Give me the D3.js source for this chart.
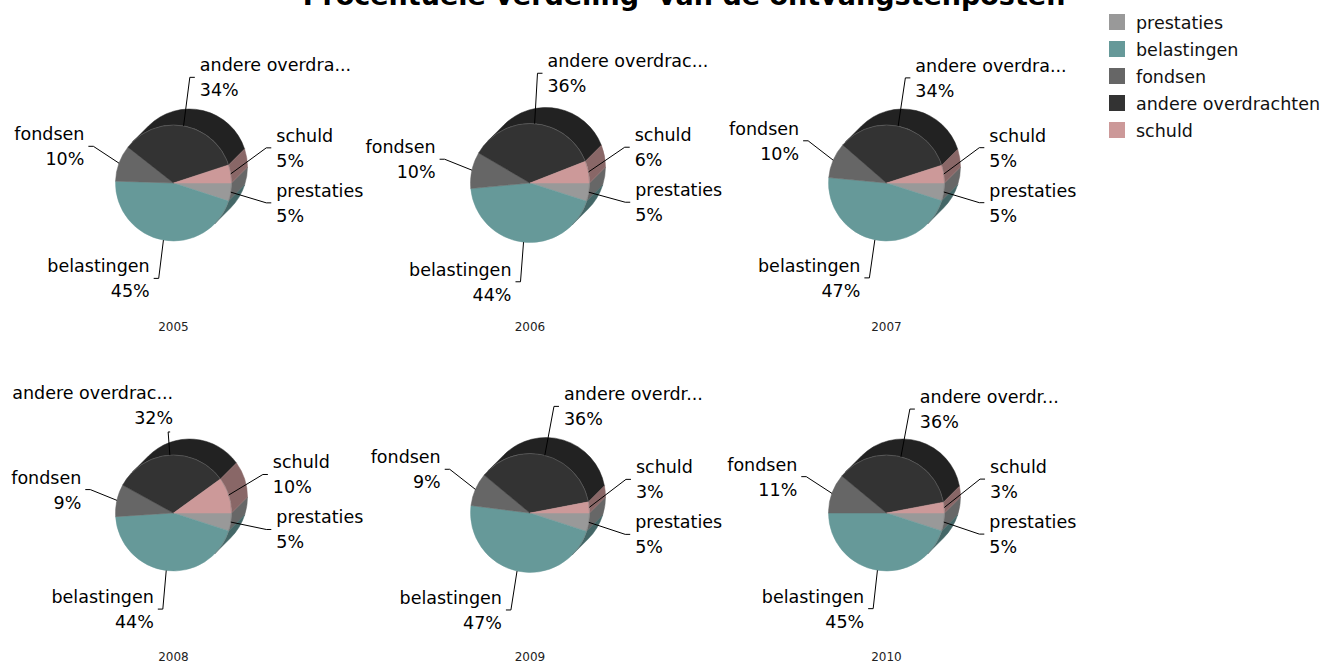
<!DOCTYPE html>
<html>
<head>
<meta charset="utf-8">
<style>
    body { margin: 0; background: #fff; }
    svg { display: block; font-family: 'DejaVu Sans', Verdana, sans-serif; }
</style>
</head>
<body>
<svg width="1324" height="663"></svg>

<script src="https://d3js.org/d3.v7.min.js"></script>
<script>
    // categories in pie order (clockwise from 3 o'clock)
    let categories = ["prestaties", "belastingen", "fondsen", "andere overdrachten", "schuld"];
    let colors = ["#999999", "#669999", "#666666", "#333333", "#cc9999"];
    let years = ["2005", "2006", "2007", "2008", "2009", "2010"];

    // percentages per category, one value per year
    let prestaties = [5, 5, 5, 5, 5, 5];
    let belastingen = [45, 44, 47, 44, 47, 45];
    let fondsen = [10, 10, 10, 9, 9, 11];
    let andere = [34, 36, 34, 32, 36, 36];
    let schuld = [5, 6, 5, 10, 3, 3];

    // the labels of "andere overdrachten" get cut off differently in each pie
    let andereLabels = ["andere overdra...", "andere overdrac...", "andere overdra...",
                        "andere overdrac...", "andere overdr...", "andere overdr..."];

    let svg = d3.select("svg");

    // title (partly off the top of the picture)
    svg.append("text")
        .attr("x", 684)
        .attr("y", 5)
        .attr("text-anchor", "middle")
        .attr("font-size", 27)
        .attr("font-weight", "bold")
        .attr("fill", "#000")
        .style("white-space", "pre")
        .text("Procentuele verdeling  van de ontvangstenposten");

    // legend
    let legend = svg.append("g").attr("transform", "translate(1109,14)");
    let legendRows = legend.selectAll("g")
        .data(categories)
        .join("g")
        .attr("transform", (d, i) => `translate(0,${i * 27})`);
    legendRows.append("rect")
        .attr("width", 16).attr("height", 16)
        .attr("fill", (d, i) => colors[i]);
    legendRows.append("text")
        .attr("x", 27).attr("y", 15)
        .attr("font-size", 17.5)
        .attr("fill", "#111")
        .text(d => d);

    let colX = d3.scalePoint().domain([0, 1, 2]).range([173.5, 886.5]);
    let rowY = d3.scalePoint().domain([0, 1]).range([183, 513]);
    let radii = [58, 59.5, 58];
    let depth = [16, -16];

    let pie = d3.pie().sort(null).startAngle(Math.PI / 2).endAngle(Math.PI * 2.5);

    // visible part of the cylinder wall, in d3 angles (0 = up, clockwise)
    let visible = [[-Math.PI / 4, Math.PI * 3 / 4], [Math.PI * 7 / 4, Math.PI * 11 / 4]];

    function darker(c) {
        let rgb = d3.rgb(c);
        return d3.rgb(rgb.r * 0.67, rgb.g * 0.67, rgb.b * 0.67).formatHex();
    }

    years.forEach((year, k) => {
        let values = [prestaties[k], belastingen[k], fondsen[k], andere[k], schuld[k]];
        let names = categories.slice();
        names[3] = andereLabels[k];

        let col = k % 3, row = Math.floor(k / 3);
        let cx = colX(col), cy = rowY(row), r = radii[col];
        let g = svg.append("g");
        let slices = pie(values);

        // side walls
        slices.forEach((s, i) => {
            visible.forEach(v => {
                let a0 = Math.max(s.startAngle, v[0]);
                let a1 = Math.min(s.endAngle, v[1]);
                if (a1 <= a0) return;
                let p = d3.path();
                p.moveTo(cx + r * Math.sin(a0), cy - r * Math.cos(a0));
                p.arc(cx, cy, r, a0 - Math.PI / 2, a1 - Math.PI / 2);
                p.lineTo(cx + depth[0] + r * Math.sin(a1), cy + depth[1] - r * Math.cos(a1));
                p.arc(cx + depth[0], cy + depth[1], r, a1 - Math.PI / 2, a0 - Math.PI / 2, true);
                p.closePath();
                g.append("path")
                    .attr("d", p.toString())
                    .attr("fill", darker(colors[i]))
                    .attr("stroke", darker(colors[i]))
                    .attr("stroke-width", 0.5);
            });
        });

        // front face
        let arc = d3.arc().innerRadius(0).outerRadius(r);
        g.append("g")
            .attr("transform", `translate(${cx},${cy})`)
            .selectAll("path")
            .data(slices)
            .join("path")
            .attr("d", arc)
            .attr("fill", (d, i) => colors[i])
            .attr("stroke", (d, i) => colors[i])
            .attr("stroke-width", 0.5);

        // faint highlight on the front rim
        let rim = d3.path();
        rim.arc(cx, cy, r, -Math.PI * 3 / 4, Math.PI / 4);
        g.append("path")
            .attr("d", rim.toString())
            .attr("fill", "none")
            .attr("stroke", "#777")
            .attr("stroke-opacity", 0.5)
            .attr("stroke-width", 0.8);

        // label positions
        let labels = slices.map((s, i) => {
            let a = (s.startAngle + s.endAngle) / 2;
            let ux = Math.sin(a), uy = -Math.cos(a);
            let right = ux >= 0;
            let top = !right && uy < -0.9;   // label sits above the pie, on the left
            let rx = right ? 1.62 * r : 1.47 * r;
            let ry = top ? 1.4 * r : (uy < 0 ? 1.85 * r : 1.67 * r);
            return {
                i: i,
                ax: cx + r * ux, ay: cy + r * uy,
                ex: cx + rx * ux, ey: cy + ry * uy,
                right: right, top: top
            };
        });
        // push apart labels on the same side that overlap
        [true, false].forEach(side => {
            let list = labels.filter(l => l.right === side && !l.top).sort((a, b) => a.ey - b.ey);
            for (let j = 1; j < list.length; j++) {
                let gap = list[j].ey - list[j - 1].ey;
                if (gap < 55) {
                    let def = 55 - gap;
                    list[j - 1].ey -= def * 0.8;
                    list[j].ey += def * 0.2;
                }
            }
        });

        labels.forEach(l => {
            let tx = l.right ? l.ex + 5 : l.ex - 5;
            let pts = l.top ? [[l.ax, l.ay], [l.ex, l.ey], [l.ex + 2, l.ey]] : [[l.ax, l.ay], [l.ex, l.ey], [tx, l.ey]];
            g.append("polyline")
                .attr("points", pts.join(" "))
                .attr("fill", "none")
                .attr("stroke", "#000")
                .attr("stroke-width", 1);
            let t = g.append("text")
                .attr("font-size", 17.5)
                .attr("fill", "#000")
                .attr("text-anchor", l.right ? "start" : "end");
            let x, y1;
            if (l.top) {
                x = l.ex + 5;
                y1 = l.ey - 33;
            } else {
                x = l.right ? l.ex + 10 : l.ex - 9;
                y1 = l.ey - 6;
            }
            t.append("tspan").attr("x", x).attr("y", y1).text(names[l.i]);
            t.append("tspan").attr("x", x).attr("y", y1 + 25).text(values[l.i] + "%");
        });

        // year
        g.append("text")
            .attr("x", cx)
            .attr("y", cy + 148)
            .attr("text-anchor", "middle")
            .attr("font-size", 12)
            .attr("fill", "#222")
            .text(year);
    });
</script>
</body>
</html>
